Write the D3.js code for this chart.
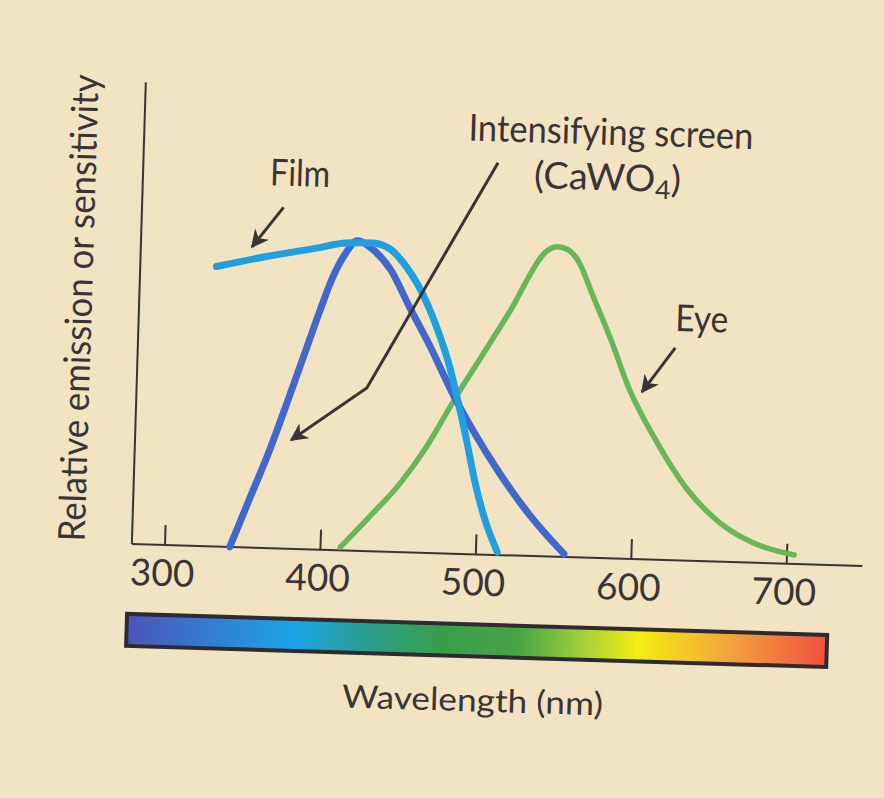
<!DOCTYPE html>
<html><head><meta charset="utf-8">
<script src="https://cdn.jsdelivr.net/npm/d3@7"></script>
<style>html,body{margin:0;padding:0;background:#f2e4c2;} svg{display:block}</style>
</head><body>
<svg id="chart" width="884" height="798"></svg>
<script>
// ---------- data ----------
const xTicks = [300, 400, 500, 600, 700];
const xTickLabels = ["300", "400", "500", "600", "700"];
const axisExtentNm = [279, 749];
const yAxisTopValue = 149;

// Intensifying screen (CaWO4) emission
const screenNm  = [342, 354, 366, 376, 386, 395, 403, 411, 418, 429, 440, 453, 467, 483, 496, 514, 535, 557];
const screenVal = [0, 16, 32, 47, 62.5, 76.5, 88, 96, 100, 97, 91, 79, 66.5, 51, 40, 26.4, 12.7, 1];

// Film sensitivity
const filmNm  = [328, 360, 392, 411, 428, 439, 450, 462, 473, 480, 486, 492, 498, 505, 514];
const filmVal = [90.3, 94, 97.2, 99.1, 99.4, 97.7, 92.1, 82.6, 70, 60, 49, 37, 24, 12, 1];

// Eye sensitivity
const eyeNm  = [413, 431, 450, 465, 485, 505, 520, 530, 538, 547, 553, 560, 571, 583, 596, 612, 635, 657, 679, 705];
const eyeVal = [1, 11, 22, 33, 51, 68, 81, 91, 97.5, 100, 99.3, 96, 84, 70.5, 54.5, 40, 23, 12.4, 6.3, 2.9];

// Spectrum bar
const spectrumNm = [276, 729];
const spectrumOffsets = [0, 0.24, 0.34, 0.45, 0.56, 0.64, 0.73, 0.86, 1];
const spectrumColors = ["#4b55b8", "#1ca4ea", "#2a9e90", "#389e4c", "#48a444", "#96cc3c", "#f4ee12", "#f4a43c", "#f0503e"];

// Annotation labels (nm, value)
const labelTexts = ["Film", "Intensifying screen", "Eye"];
const labelNm    = [380, 579, 641];
const labelVal   = [117, 133.4, 74];
// Arrows: [nm, value] points
const filmArrow = [[370, 110], [350.5, 97]];
const screenPointer = [[507, 126.5], [427, 52.6], [379.4, 35.1]];
const eyeArrow = [[624.5, 68.5], [604, 54]];

// ---------- drawing ----------
const svg = d3.select("#chart");
const ink = "#3a3436";
const font = "Lato, 'Open Sans', sans-serif";

const x = d3.scaleLinear().domain([300, 700]).range([32.5, 654.5]);
const y = d3.scaleLinear().domain([0, 100]).range([0, -310]);

svg.append("rect").attr("width", 884).attr("height", 798).attr("fill", "#f2e4c2");

const defs = svg.append("defs");
defs.append("marker").attr("id", "ah").attr("viewBox", "0 0 10 10")
  .attr("refX", 9).attr("refY", 5).attr("markerWidth", 6).attr("markerHeight", 6)
  .attr("markerUnits", "strokeWidth").attr("orient", "auto")
  .append("path").attr("d", "M0,0 L10,5 L0,10 L3,5 Z").attr("fill", ink);

const grad = defs.append("linearGradient").attr("id", "spec")
  .attr("x1", "0%").attr("x2", "100%").attr("y1", "0%").attr("y2", "0%");
spectrumOffsets.forEach((o, i) => grad.append("stop").attr("offset", o).attr("stop-color", spectrumColors[i]));

const g = svg.append("g").attr("transform", "translate(132,544) rotate(1.73)");

// axes
g.append("line").attr("x1", x(axisExtentNm[0])).attr("x2", x(axisExtentNm[1]))
  .attr("y1", 0).attr("y2", 0).attr("stroke", ink).attr("stroke-width", 2);
g.append("line").attr("x1", x(axisExtentNm[0])).attr("x2", x(axisExtentNm[0]))
  .attr("y1", 0).attr("y2", y(yAxisTopValue)).attr("stroke", ink).attr("stroke-width", 2);

const xAxis = d3.axisBottom(x).tickValues(xTicks).tickSizeInner(-20).tickSizeOuter(0)
  .tickFormat((d, i) => xTickLabels[i]).tickPadding(20);
const ax = g.append("g").call(xAxis);
ax.select(".domain").remove();
ax.selectAll(".tick line").attr("stroke", ink).attr("stroke-width", 2);
ax.selectAll(".tick text").attr("fill", ink).attr("font-family", font)
  .attr("font-size", 37).attr("dy", null).attr("y", 41).attr("dx", -2);

// curves
const line = d3.line().x(d => x(d[0])).y(d => y(d[1])).curve(d3.curveMonotoneX);
const series = [
  {nm: screenNm, val: screenVal, color: "#4169cc", w: 7},
  {nm: filmNm, val: filmVal, color: "#229fe0", w: 7},
  {nm: eyeNm, val: eyeVal, color: "#68b65a", w: 5.5}
];
// draw order: eye, screen, film
[series[2], series[0], series[1]].forEach(s => {
  g.append("path").datum(s.nm.map((n, i) => [n, s.val[i]]))
    .attr("d", line).attr("fill", "none").attr("stroke", s.color)
    .attr("stroke-width", s.w).attr("stroke-linecap", "round").attr("stroke-linejoin", "round");
});

// arrows
const straight = d3.line().x(d => x(d[0])).y(d => y(d[1]));
[filmArrow, screenPointer, eyeArrow].forEach(a => {
  g.append("path").datum(a).attr("d", straight).attr("fill", "none")
    .attr("stroke", ink).attr("stroke-width", 3).attr("marker-end", "url(#ah)");
});

// labels
const lbl = g.append("g").attr("fill", ink).attr("font-family", font).attr("text-anchor", "middle");
const lblLen = [60, 285, 53];
labelTexts.forEach((t, i) => {
  lbl.append("text").attr("x", x(labelNm[i])).attr("y", y(labelVal[i]))
    .attr("font-size", 37).attr("textLength", lblLen[i]).attr("lengthAdjust", "spacingAndGlyphs").text(t);
});
const cawo = lbl.append("text").attr("x", x(577.7)).attr("y", y(118.7)).attr("font-size", 37)
  .attr("textLength", 147).attr("lengthAdjust", "spacingAndGlyphs");
cawo.append("tspan").text("(CaWO");
cawo.append("tspan").attr("font-size", 26).attr("dy", 7).text("4");
cawo.append("tspan").attr("dy", -7).text(")");

// spectrum bar
g.append("rect").attr("x", x(spectrumNm[0]) + 2).attr("y", 70)
  .attr("width", x(spectrumNm[1]) - x(spectrumNm[0]) - 4).attr("height", 32)
  .attr("fill", "url(#spec)").attr("stroke", "#2e2a30").attr("stroke-width", 4);

// axis titles
lbl.append("text").attr("x", x(501)).attr("y", 157).attr("font-size", 32)
  .attr("textLength", 261).attr("lengthAdjust", "spacingAndGlyphs").text("Wavelength (nm)");
lbl.append("text").attr("transform", `translate(${x(248.6)},${y(75.6)}) rotate(-90)`)
  .attr("font-size", 37).attr("textLength", 467).attr("lengthAdjust", "spacingAndGlyphs")
  .text("Relative emission or sensitivity");
</script>
</body></html>
